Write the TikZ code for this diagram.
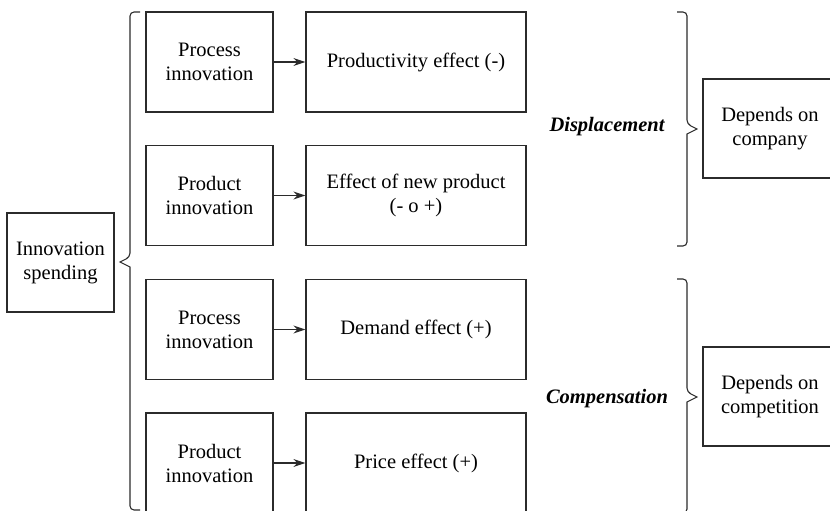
\documentclass[tikz,border=0pt]{standalone}
\usepackage{fontspec}
\setmainfont{Liberation Serif}
\usepackage{xcolor}
\usepackage{tikz}
\usetikzlibrary{arrows.meta,positioning}
\definecolor{ink}{HTML}{2B2B2B}
\tikzset{box/.style={rectangle,draw=ink,line width=1.3pt,align=center,inner sep=2pt,font=\fontsize{20.5}{24}\selectfont},
         inno/.style={box,minimum width=127pt,minimum height=100pt},
         eff/.style={box,minimum width=220pt,minimum height=100pt},
         dep/.style={box,minimum width=134pt,minimum height=99pt},
         brc/.style={draw=ink,line width=1.1pt,rounded corners=4pt},
         lbl/.style={font=\fontsize{20.5}{24}\selectfont\bfseries\itshape}}

\begin{document}
\begin{tikzpicture}[x=1pt,y=-1pt,>={Stealth[length=12pt,width=8pt]}]
    \useasboundingbox (0,0) rectangle (830,511);

    \node[box,minimum width=107pt,minimum height=99pt] (spend) at (60.5,262.5) {Innovation\\spending};

    \node[inno] (proca) at (209.5,62) {Process\\innovation};
    \node[inno] (proda) at (209.5,195.5) {Product\\innovation};
    \node[inno] (procb) at (209.5,329.5) {Process\\innovation};
    \node[inno] (prodb) at (209.5,463) {Product\\innovation};

    \node[eff] (prty) at (416,62) {Productivity effect (-)};
    \node[eff] (newp) at (416,195.5) {Effect of new product\\(- o +)};
    \node[eff] (dmnd) at (416,329.5) {Demand effect (+)};
    \node[eff] (prce) at (416,463) {Price effect (+)};

    \node[lbl] (disp) at (607,127) {Displacement};
    \node[lbl] (comp) at (607,399) {Compensation};

    \node[dep] (cmpy) at (770,128.5) {Depends on\\company};
    \node[dep] (cmpt) at (770,396.5) {Depends on\\competition};

    \draw [->,ink,line width=1.2pt] (proca) to [] (prty);
    \draw [->,ink,line width=1.2pt] (proda) to [] (newp);
    \draw [->,ink,line width=1.2pt] (procb) to [] (dmnd);
    \draw [->,ink,line width=1.2pt] (prodb) to [] (prce);

    % braces
    \coordinate (lt) at (140,12);
    \coordinate (lb) at (140,510);
    \coordinate (ltip) at (120,262);
    \draw [brc] (lt) -- (130,12) -- (130,257) [sharp corners] -- (ltip) -- (130,267) [rounded corners=4pt] -- (130,510) -- (lb);

    \coordinate (rat) at (677,12);
    \coordinate (rab) at (677,246);
    \coordinate (ratip) at (697,129);
    \draw [brc] (rat) -- (687,12) -- (687,124) [sharp corners] -- (ratip) -- (687,134) [rounded corners=4pt] -- (687,246) -- (rab);

    \coordinate (rbt) at (677,279);
    \coordinate (rbb) at (677,513);
    \coordinate (rbtip) at (697,397);
    \draw [brc] (rbt) -- (687,279) -- (687,392) [sharp corners] -- (rbtip) -- (687,402) [rounded corners=4pt] -- (687,513) -- (rbb);
\end{tikzpicture}
\end{document}
